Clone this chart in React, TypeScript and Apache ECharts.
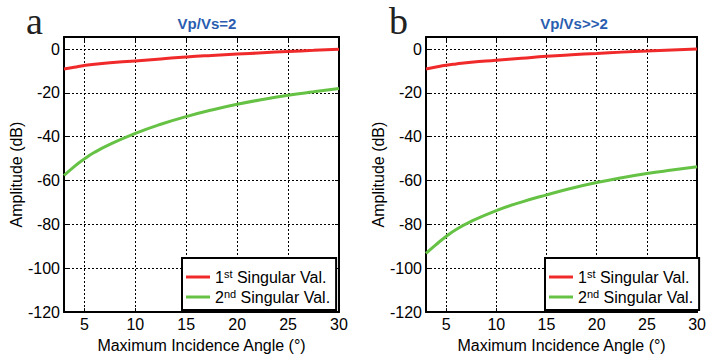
import React, { useEffect, useRef } from "react";
import * as echarts from "echarts";

const angles = [3, 4, 5, 6, 7.5, 10, 12.5, 15, 17.5, 20, 22.5, 25, 27.5, 30];
const leftFirst = [-9.1, -8.3, -7.5, -6.9, -6.3, -5.4, -4.5, -3.6, -2.9, -2.3, -1.7, -1.1, -0.6, -0.1];
const leftSecond = [-57.7, -53.6, -50.1, -47.1, -43.5, -38.5, -34.3, -30.8, -27.8, -25.2, -23.0, -21.1, -19.5, -18.0];
const rightFirst = [-9.1, -8.2, -7.4, -6.8, -6.0, -5.1, -4.2, -3.3, -2.6, -2.0, -1.4, -0.9, -0.4, 0];
const rightSecond = [-93.2, -89.2, -85.5, -82.3, -78.6, -73.7, -69.8, -66.5, -63.5, -60.9, -58.7, -56.8, -55.2, -53.7];
const xTicks = [5, 10, 15, 20, 25, 30];
const titles = ["Vp/Vs=2", "Vp/Vs>>2"];
const panelLetters = ["a", "b"];
const seriesNames = ["1st Singular Val.", "2nd Singular Val."];

const RED = "#f02a2a";
const GREEN = "#66c245";
const FONT = "'Liberation Sans', Arial, sans-serif";

export default function App() {
  const ref = useRef<HTMLDivElement>(null);
  useEffect(() => {
    if (!ref.current) return;
    const chart = echarts.init(ref.current, null, { renderer: "svg" });
    const grids = [
      { left: 64, right: 370, top: 37, bottom: 44 },
      { left: 426, right: 7, top: 37, bottom: 44 },
    ];
    const pair = (ys: number[]) => angles.map((a, i) => [a, ys[i]]);
    const yFmt = (v: number) => (Math.abs(v % 20) < 1e-9 ? String(v) : "");
    const xAxes: any[] = [];
    const yAxes: any[] = [];
    grids.forEach((_, g) => {
      xAxes.push({
        type: "value", gridIndex: g, min: 3, max: 30,
        position: "bottom",
        name: "Maximum Incidence Angle (°)", nameLocation: "middle", nameGap: 23,
        nameTextStyle: { fontFamily: FONT, fontSize: 16, color: "#000" },
        axisLine: { show: true, onZero: false, lineStyle: { color: "#000", width: 2 } },
        axisTick: { show: true, inside: true, length: 4, lineStyle: { color: "#000" }, customValues: xTicks },
        axisLabel: { fontFamily: FONT, fontSize: 16, color: "#000", margin: 4, customValues: xTicks },
        splitLine: { show: true, lineStyle: { color: "#000", type: [2, 2], width: 1 } },
      });
      xAxes.push({
        type: "value", gridIndex: g, min: 3, max: 30, position: "top",
        axisLine: { show: true, onZero: false, lineStyle: { color: "#000", width: 2 } },
        axisTick: { show: true, inside: true, length: 4, lineStyle: { color: "#000" }, customValues: xTicks },
        axisLabel: { show: false }, splitLine: { show: false },
      });
      yAxes.push({
        type: "value", gridIndex: g, min: -120, max: 5.5, interval: 20, position: "left",
        name: "Amplitude (dB)", nameLocation: "middle", nameGap: 40,
        nameTextStyle: { fontFamily: FONT, fontSize: 16, color: "#000" },
        axisLine: { show: true, onZero: false, lineStyle: { color: "#000", width: 2 } },
        axisTick: { show: true, inside: true, length: 4, lineStyle: { color: "#000" } },
        axisLabel: { fontFamily: FONT, fontSize: 16, color: "#000", margin: 4, formatter: yFmt },
        splitLine: { show: true, lineStyle: { color: "#000", type: [2, 2], width: 1 } },
      });
      yAxes.push({
        type: "value", gridIndex: g, min: -120, max: 5.5, interval: 20, position: "right",
        axisLine: { show: true, onZero: false, lineStyle: { color: "#000", width: 2 } },
        axisTick: { show: true, inside: true, length: 4, lineStyle: { color: "#000" } },
        axisLabel: { show: false }, splitLine: { show: false },
      });
    });
    const lineSeries = (name: string, data: number[], color: string, g: number) => ({
      type: "line", name, xAxisIndex: g * 2, yAxisIndex: g * 2,
      data: pair(data), smooth: true, showSymbol: false, symbol: "none",
      lineStyle: { color, width: 3 }, itemStyle: { color }, z: 5,
    });
    const legendFmt = (n: string) =>
      n.startsWith("1st") ? "1{sup|st} Singular Val." : "2{sup|nd} Singular Val.";
    const legendBase = (left: number) => ({
      orient: "vertical", left, top: 258,
      data: seriesNames.map((n) => ({ name: n, icon: "rect" })),
      itemWidth: 24, itemHeight: 3, itemGap: 3,
      backgroundColor: "#fff", borderColor: "#000", borderWidth: 2,
      padding: [10, 6, 5, 4],
      formatter: legendFmt,
      textStyle: {
        fontFamily: FONT, fontSize: 16, color: "#000",
        rich: { sup: { fontFamily: FONT, fontSize: 11, color: "#000", verticalAlign: "top", padding: [0, 0, 7, 0] } },
      },
      selectedMode: false,
    });
    chart.setOption({
      animation: false,
      backgroundColor: "#fff",
      grid: grids,
      xAxis: xAxes,
      yAxis: yAxes,
      legend: [legendBase(182), legendBase(545)],
      title: [
        { text: titles[0], left: 202, top: 11, textAlign: "center", textStyle: { fontFamily: FONT, fontSize: 15, fontWeight: "bold", color: "#2a5db0" } },
        { text: titles[1], left: 569, top: 11, textAlign: "center", textStyle: { fontFamily: FONT, fontSize: 15, fontWeight: "bold", color: "#2a5db0" } },
      ],
      graphic: [
        { type: "text", left: 26, top: 2, style: { text: panelLetters[0], font: "38px 'Liberation Serif', serif", fill: "#222" } },
        { type: "text", left: 389, top: 2, style: { text: panelLetters[1], font: "38px 'Liberation Serif', serif", fill: "#222" } },
      ],
      series: [
        lineSeries(seriesNames[0], leftFirst, RED, 0),
        lineSeries(seriesNames[1], leftSecond, GREEN, 0),
        lineSeries(seriesNames[0], rightFirst, RED, 1),
        lineSeries(seriesNames[1], rightSecond, GREEN, 1),
      ],
    });
    return () => chart.dispose();
  }, []);
  return <div ref={ref} style={{ width: 709, height: 358, position: "absolute", left: 0, top: 0 }} />;
}
